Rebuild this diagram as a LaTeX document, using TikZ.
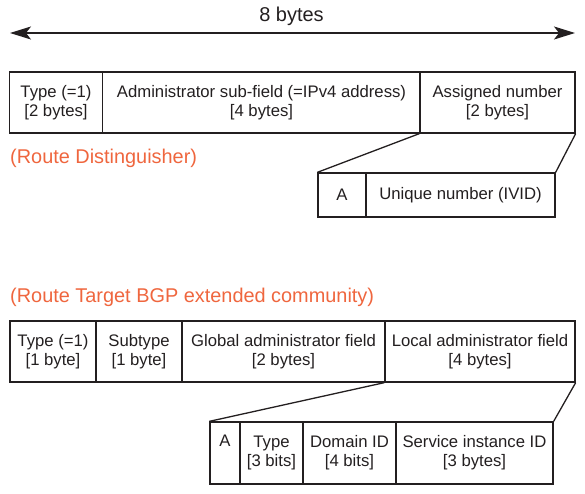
\documentclass[tikz,border=0pt]{standalone}
\usepackage{fontspec}
\setmainfont{Liberation Sans}
\usepackage{tikz}
\usetikzlibrary{positioning,calc,arrows.meta}

\definecolor{lblorange}{RGB}{239,102,62}
\definecolor{inkgray}{RGB}{35,31,32}

\tikzset{
  field/.style={draw=inkgray, line width=1.3pt, inner sep=0pt, align=center,
    text=inkgray, font=\fontsize{16.7}{19}\selectfont},
  title/.style={text=lblorange, anchor=west, inner sep=0pt,
    font=\fontsize{19.9}{22}\selectfont},
  link/.style={draw=inkgray, line width=1.3pt}
}

\begin{document}
\begin{tikzpicture}[x=1pt,y=-1pt]
			\useasboundingbox (0,0) rectangle (585,494);
			
			% width of the whole field
			\coordinate (wleft) at (10,33);
			\coordinate (wright) at (575,33);
			\draw[line width=1.3pt, draw=inkgray, {Stealth[length=21pt,width=13pt,inset=5pt]}-{Stealth[length=21pt,width=13pt,inset=5pt]}] (wleft) -- (wright);
			\node[text=inkgray, font=\fontsize{20}{22}\selectfont] (wlabel) at (291.5,16) {8 bytes};
			
			% route distinguisher
			\node[field, minimum width=93pt, minimum height=61pt] (rdtype) at (56,102.5) {Type (=1)\\{}[2 bytes]};
			\node[field, minimum width=318pt, minimum height=61pt] (rdadmin) at (261.5,102.5) {Administrator sub-field (=IPv4 address)\\{}[4 bytes]};
			\node[field, minimum width=155pt, minimum height=61pt] (rdnum) at (497.5,102.5) {Assigned number\\{}[2 bytes]};
			
			\node[title] (rdtitle) at (10,158) {(Route Distinguisher)};
			
			\node[field, minimum width=48pt, minimum height=44pt] (rdA) at (342,195) {A};
			\node[field, minimum width=189pt, minimum height=44pt] (rduniq) at (460.5,195) {Unique number (IVID)};
			
			\draw[link] (rdnum.south west) -- (rdA.north west);
			\draw[link] (rdnum.south east) -- (rduniq.north east);
			
			% route target
			\node[title] (rttitle) at (10,297) {(Route Target BGP extended community)};
			
			\node[field, minimum width=86pt, minimum height=61pt] (rttype) at (53,351.5) {Type (=1)\\{}[1 byte]};
			\node[field, minimum width=86pt, minimum height=61pt] (rtsub) at (139,351.5) {Subtype\\{}[1 byte]};
			\node[field, minimum width=203pt, minimum height=61pt] (rtglobal) at (283.5,351.5) {Global administrator field\\{}[2 bytes]};
			\node[field, minimum width=190pt, minimum height=61pt] (rtlocal) at (480,351.5) {Local administrator field\\{}[4 bytes]};
			
			\node[field, minimum width=30pt, minimum height=62pt] (rtA) at (225,453) {A\\{}\strut};
			\node[field, minimum width=63pt, minimum height=62pt] (rtkind) at (271.5,453) {Type\\{}[3 bits]};
			\node[field, minimum width=93pt, minimum height=62pt] (rtdomain) at (349.5,453) {Domain ID\\{}[4 bits]};
			\node[field, minimum width=157pt, minimum height=62pt] (rtservice) at (474.5,453) {Service instance ID\\{}[3 bytes]};
			
			\draw[link] (rtlocal.south west) -- (rtA.north west);
			\draw[link] (rtlocal.south east) -- (rtservice.north east);
		\end{tikzpicture}
\end{document}
